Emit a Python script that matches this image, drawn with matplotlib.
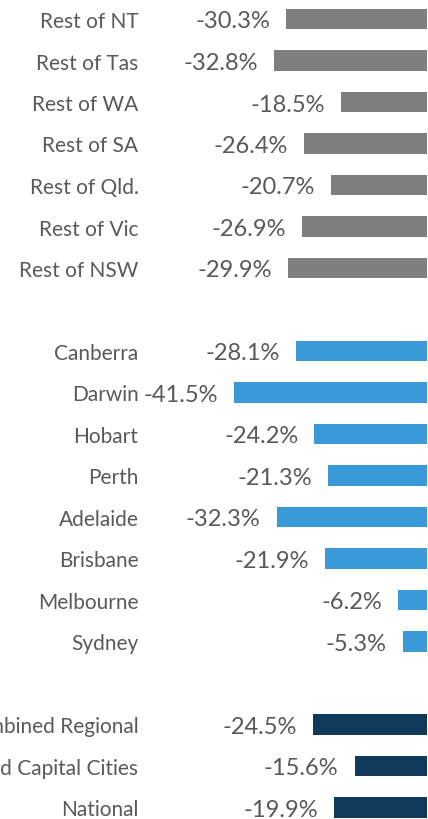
import matplotlib
matplotlib.use("Agg")
import matplotlib.pyplot as plt

# data (top to bottom)
regions = ["Rest of NT", "Rest of Tas", "Rest of WA", "Rest of SA",
           "Rest of Qld.", "Rest of Vic", "Rest of NSW"]
region_vals = [-30.3, -32.8, -18.5, -26.4, -20.7, -26.9, -29.9]

capitals = ["Canberra", "Darwin", "Hobart", "Perth", "Adelaide",
            "Brisbane", "Melbourne", "Sydney"]
capital_vals = [-28.1, -41.5, -24.2, -21.3, -32.3, -21.9, -6.2, -5.3]

totals = ["Combined Regional", "Combined Capital Cities", "National"]
total_vals = [-24.5, -15.6, -19.9]

groups = [(regions, region_vals, "#7f7f7f"),
          (capitals, capital_vals, "#3a99d8"),
          (totals, total_vals, "#0f3a5c")]

text_col = "#595959"
plt.rcParams["font.family"] = ["Lato", "DejaVu Sans"]

W, H = 428, 820
fig = plt.figure(figsize=(W / 100, H / 100), dpi=100)
ax_left = 145
ax = fig.add_axes([ax_left / W, 0, (W - ax_left) / W, 1])

# one empty row between groups
labels, ypos = [], []
row = 0
for names, vals, col in groups:
    ys = list(range(row, row + len(names)))
    ax.barh(ys, vals, height=0.5, color=col, edgecolor="none")
    for y, v in zip(ys, vals):
        ax.annotate(f"{v:.1f}%", xy=(v, y), xytext=(-16, 0),
                    textcoords="offset pixels", ha="right",
                    va="center_baseline", fontsize=17, color=text_col)
    labels += names
    ypos += ys
    row += len(names) + 1

ax.set_yticks(ypos)
ax.set_yticklabels(labels, fontsize=15, color=text_col)
ax.tick_params(axis="y", length=0, pad=4.7)
ax.set_xticks([])

# zero sits at the right edge of the crop
zero_px, px_per = 427.2, 4.66
ax.set_xlim((ax_left - zero_px) / px_per, (W - zero_px) / px_per)
ax.set_ylim(19 + 11.5 / 41.5, -20 / 41.5)
for s in ax.spines.values():
    s.set_visible(False)

fig.savefig("out.png", dpi=100)
